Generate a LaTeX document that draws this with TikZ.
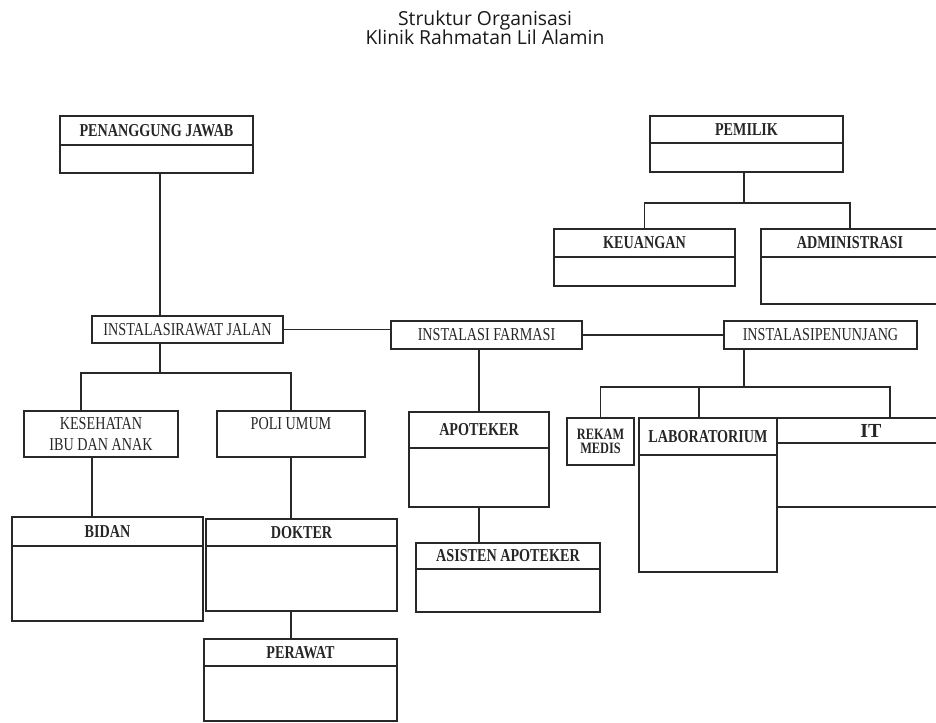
\documentclass[tikz,border=0pt]{standalone}
\usepackage{fontspec}
\setmainfont{Liberation Serif}
\newfontfamily\boxfont[FakeStretch=0.78]{Liberation Serif}
\newfontfamily\titlefont{Open Sans}
\usetikzlibrary{positioning}
\definecolor{inkgray}{RGB}{40, 40, 40}

\tikzset{
  box/.style={draw=inkgray, line width=1.1pt, inner sep=0pt, outer sep=0pt, align=center, text=black!85,
              font=\boxfont\fontsize{15.5}{18}\selectfont},
  head/.style={box, font=\boxfont\bfseries\fontsize{15.5}{18}\selectfont},
  sz/.style 2 args={minimum width=#1*0.03cm, minimum height=#2*0.03cm},
  link/.style={draw=inkgray, line width=1.1pt},
}

\begin{document}
\begin{tikzpicture}[x=0.03cm, y=-0.03cm]
            \clip (0,0) rectangle (936,722);
            % Title
            \node[font=\titlefont\fontsize{16.5}{16.5}\selectfont, align=center, text=black!90] (title) at (485,28)
                 {Struktur Organisasi\\Klinik Rahmatan Lil Alamin};
            % Top boxes
            \node[head, sz={193}{29}, anchor=north west] (pj)  at (60,116)  {PENANGGUNG JAWAB};
            \node[box,  sz={193}{28}, below=0pt of pj]   (pjb) {};
            \node[head, sz={193}{27}, anchor=north west] (pem) at (650,116) {PEMILIK};
            \node[box,  sz={193}{29}, below=0pt of pem]  (pemb) {};
            \node[head, sz={181}{28}, anchor=north west] (keu) at (554,229) {KEUANGAN};
            \node[box,  sz={181}{29}, below=0pt of keu]  (keub) {};
            \node[head, sz={178}{28}, anchor=north west] (adm) at (761,229) {ADMINISTRASI};
            \node[box,  sz={178}{47}, below=0pt of adm]  (admb) {};
            % Instalasi row
            \node[box, sz={191}{27}, anchor=north west] (rj)   at (92,316)  {INSTALASIRAWAT JALAN};
            \node[box, sz={191}{28}, anchor=north west] (farm) at (391,321) {INSTALASI FARMASI};
            \node[box, sz={193}{28}, anchor=north west] (pen)  at (724,321) {INSTALASIPENUNJANG};
            % Rawat jalan branch
            \node[box,  sz={154}{46}, anchor=north west] (kes)  at (24,411)  {KESEHATAN\\IBU DAN ANAK};
            \node[box,  sz={148}{46}, anchor=north west] (poli) at (217,411) {POLI UMUM\\\phantom{X}};
            \node[head, sz={191}{29}, anchor=north west] (bid)  at (12,517)  {BIDAN};
            \node[box,  sz={191}{75}, below=0pt of bid]  (bidb) {};
            \node[head, sz={191}{27}, anchor=north west] (dok)  at (206,519) {DOKTER};
            \node[box,  sz={191}{65}, below=0pt of dok]  (dokb) {};
            \node[head, sz={193}{27}, anchor=north west] (per)  at (204,639) {PERAWAT};
            \node[box,  sz={193}{55}, below=0pt of per]  (perb) {};
            % Farmasi branch
            \node[head, sz={140}{36}, anchor=north west] (apo)  at (409,412) {APOTEKER};
            \node[box,  sz={140}{59}, below=0pt of apo]  (apob) {};
            \node[head, sz={184}{26}, anchor=north west] (asis) at (416,543) {ASISTEN APOTEKER};
            \node[box,  sz={184}{43}, below=0pt of asis] (asisb) {};
            % Penunjang branch
            \node[head, sz={67}{47}, font=\boxfont\bfseries\fontsize{13.5}{12}\selectfont,
                  anchor=north west] (rek) at (567,418) {REKAM\\MEDIS};
            \node[head, sz={138}{37}, anchor=north west] (lab) at (639,418) {LABORATORIUM};
            \node[box,  sz={138}{117}, below=0pt of lab] (labb) {};
            \node[head, sz={188}{25}, font=\bfseries\fontsize{17}{19}\selectfont,
                  anchor=north west] (it) at (777,418) {IT};
            \node[box,  sz={188}{64}, below=0pt of it]   (itb) {};
            % Junctions
            \coordinate (pemj)  at (744,203);
            \coordinate (rjj)   at (160,373);
            \coordinate (kesj)  at (81,373);
            \coordinate (penj)  at (744,387);
            \coordinate (labj)  at (699,387);
            \coordinate (itj)   at (890,387);
            % Connectors
            \draw[link] (pemb.south -| pemj) -- (pemj);
            \draw[link] (keu.north) |- (pemj) -| (adm.north);
            \draw[link] (pjb.south -| rjj) -- (rj.north -| rjj);
            \draw[link] (rj.east) -- (rj.east -| farm.west);
            \draw[link] (farm.east) -- (pen.west);
            \draw[link] (rj.south -| rjj) -- (rjj);
            \draw[link] (kes.north -| kesj) -- (kesj) -| (poli.north);
            \draw[link] ([xshift=-0.27cm]kes.south) -- ([xshift=-0.27cm]kes.south |- bid.north);
            \draw[link] (poli.south) -- (poli.south |- dok.north);
            \draw[link] (poli.south |- dokb.south) -- (poli.south |- per.north);
            \draw[link] (apo.north |- farm.south) -- (apo.north);
            \draw[link] (apob.south) -- (apob.south |- asis.north);
            \draw[link] (pen.south -| penj) -- (penj);
            \draw[link] (rek.north) |- (penj) -- (itj) -- (itj |- it.north);
            \draw[link] (labj) -- (labj |- lab.north);
\end{tikzpicture}
\end{document}
